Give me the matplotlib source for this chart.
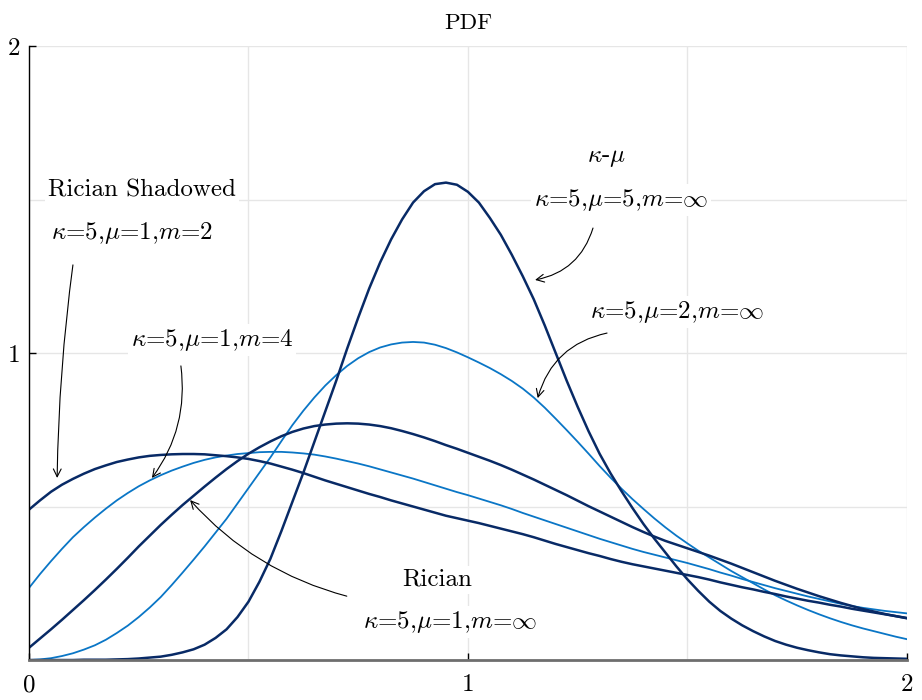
import matplotlib
matplotlib.use('Agg')
import matplotlib.pyplot as plt
import numpy as np

plt.rcParams['font.family'] = 'cmr10'
plt.rcParams['mathtext.fontset'] = 'cm'
plt.rcParams['axes.unicode_minus'] = False
plt.rcParams['axes.formatter.use_mathtext'] = True

# x grid the curves were read on (0 .. 2, step 0.025)
x = np.linspace(0, 2, 81)

# kappa-mu, kappa=5, mu=5, m=inf
kmu_mu5 = [0.0, 0.0, 0.0, 0.0, 0.0, 0.001, 0.001, 0.001, 0.002, 0.003,
           0.005, 0.008, 0.011, 0.017, 0.025, 0.035, 0.05, 0.072, 0.10, 0.14,
           0.19, 0.255, 0.33, 0.42, 0.515, 0.61, 0.71, 0.81, 0.91, 1.015,
           1.115, 1.21, 1.295, 1.37, 1.435, 1.49, 1.527, 1.55, 1.555, 1.548,
           1.525, 1.49, 1.44, 1.385, 1.32, 1.25, 1.175, 1.09, 1.00, 0.91,
           0.825, 0.745, 0.672, 0.608, 0.55, 0.495, 0.443, 0.395, 0.35, 0.305,
           0.263, 0.225, 0.19, 0.16, 0.135, 0.113, 0.094, 0.077, 0.062, 0.05,
           0.04, 0.032, 0.025, 0.019, 0.015, 0.012, 0.009, 0.007, 0.006, 0.005, 0.004]

# kappa-mu, kappa=5, mu=2, m=inf
kmu_mu2 = [0.0, 0.002, 0.006, 0.013, 0.022, 0.034, 0.048, 0.066, 0.088, 0.112,
           0.14, 0.171, 0.205, 0.244, 0.285, 0.327, 0.37, 0.415, 0.46, 0.51,
           0.56, 0.61, 0.66, 0.713, 0.765, 0.812, 0.855, 0.894, 0.928, 0.958,
           0.983, 1.003, 1.018, 1.028, 1.034, 1.036, 1.034, 1.027, 1.016, 1.002,
           0.986, 0.969, 0.951, 0.931, 0.909, 0.884, 0.855, 0.822, 0.786, 0.749,
           0.711, 0.672, 0.632, 0.594, 0.558, 0.524, 0.492, 0.461, 0.432, 0.405,
           0.38, 0.356, 0.334, 0.312, 0.29, 0.27, 0.25, 0.23, 0.211, 0.194,
           0.178, 0.163, 0.149, 0.136, 0.124, 0.113, 0.103, 0.094, 0.085, 0.076, 0.068]

# Rician, kappa=5, mu=1, m=inf
rician = [0.04, 0.07, 0.10, 0.131, 0.163, 0.195, 0.228, 0.262, 0.297, 0.333,
          0.37, 0.405, 0.44, 0.473, 0.505, 0.535, 0.565, 0.594, 0.622, 0.648,
          0.672, 0.693, 0.712, 0.729, 0.743, 0.754, 0.762, 0.767, 0.77, 0.771,
          0.77, 0.767, 0.762, 0.755, 0.746, 0.736, 0.725, 0.713, 0.70, 0.688,
          0.675, 0.662, 0.649, 0.635, 0.62, 0.604, 0.588, 0.571, 0.554, 0.537,
          0.519, 0.501, 0.484, 0.467, 0.45, 0.433, 0.417, 0.402, 0.388, 0.376,
          0.364, 0.352, 0.34, 0.327, 0.314, 0.30, 0.286, 0.272, 0.258, 0.245,
          0.232, 0.22, 0.208, 0.197, 0.186, 0.176, 0.166, 0.158, 0.15, 0.143, 0.136]

# Rician shadowed, kappa=5, mu=1, m=2
rs_m2 = [0.49, 0.52, 0.548, 0.571, 0.59, 0.607, 0.622, 0.634, 0.645, 0.653,
         0.66, 0.665, 0.668, 0.67, 0.671, 0.671, 0.67, 0.667, 0.664, 0.66,
         0.655, 0.648, 0.64, 0.63, 0.62, 0.609, 0.597, 0.585, 0.574, 0.563,
         0.552, 0.541, 0.531, 0.52, 0.51, 0.50, 0.49, 0.48, 0.47, 0.462,
         0.454, 0.446, 0.437, 0.428, 0.419, 0.41, 0.40, 0.389, 0.378, 0.368,
         0.358, 0.348, 0.339, 0.329, 0.32, 0.312, 0.305, 0.298, 0.291, 0.284,
         0.277, 0.27, 0.262, 0.253, 0.245, 0.237, 0.23, 0.222, 0.215, 0.207,
         0.20, 0.193, 0.187, 0.18, 0.174, 0.167, 0.161, 0.155, 0.149, 0.143, 0.137]

# Rician shadowed, kappa=5, mu=1, m=4
rs_m4 = [0.235, 0.28, 0.322, 0.362, 0.40, 0.433, 0.464, 0.493, 0.52, 0.544,
         0.566, 0.585, 0.602, 0.617, 0.63, 0.642, 0.652, 0.66, 0.666, 0.671,
         0.674, 0.677, 0.678, 0.678, 0.676, 0.673, 0.669, 0.663, 0.656, 0.648,
         0.64, 0.631, 0.621, 0.611, 0.601, 0.591, 0.58, 0.569, 0.558, 0.547,
         0.537, 0.526, 0.515, 0.504, 0.492, 0.479, 0.467, 0.455, 0.443, 0.431,
         0.419, 0.407, 0.395, 0.384, 0.373, 0.362, 0.352, 0.343, 0.334, 0.325,
         0.316, 0.306, 0.296, 0.285, 0.275, 0.264, 0.254, 0.244, 0.234, 0.225,
         0.216, 0.207, 0.199, 0.191, 0.183, 0.176, 0.17, 0.165, 0.16, 0.156, 0.152]

dark = '#082a66'
light = '#0a76c6'

fig = plt.figure(figsize=(9.22, 7.0), dpi=100)
ax = fig.add_axes([0.0315, 0.0571, 0.952, 0.8772])

ax.plot(x, kmu_mu2, color=light, lw=1.3)
ax.plot(x, rs_m4, color=light, lw=1.3)
ax.plot(x, kmu_mu5, color=dark, lw=1.8)
ax.plot(x, rician, color=dark, lw=1.8)
ax.plot(x, rs_m2, color=dark, lw=1.8)

ax.set_xlim(0, 2)
ax.set_ylim(0, 2)
ax.set_xticks([0, 1, 2])
ax.set_xticklabels(['0', '1', '2'])
ax.set_yticks([1, 2])
ax.set_yticklabels(['1', '2'])
ax.set_xticks([0.5, 1.5], minor=True)
ax.set_yticks([0, 0.5, 1.5], minor=True)
ax.tick_params(which='major', direction='in', length=5, width=1, labelsize=18)
ax.tick_params(axis='x', pad=10)
ax.tick_params(axis='y', pad=6)
ax.tick_params(which='minor', length=0)
ax.grid(True, which='both', color='#e6e6e6', lw=1)
ax.set_axisbelow(True)

for s in ['top', 'right']:
    ax.spines[s].set_visible(False)
ax.spines['left'].set_color('black')
ax.spines['left'].set_linewidth(1)
ax.spines['bottom'].set_color('#6e6e6e')
ax.spines['bottom'].set_linewidth(2)

ax.set_title('PDF', fontsize=16.5, pad=12)

box = dict(facecolor='white', edgecolor='none', pad=2)
fs = 18
ax.text(0.257, 1.531, 'Rician Shadowed', fontsize=fs, ha='center', va='center', bbox=box)
ax.text(0.235, 1.391, r'$\kappa$=5,$\mu$=1,$m$=2', fontsize=fs, ha='center', va='center', bbox=box)
ax.text(0.417, 1.042, r'$\kappa$=5,$\mu$=1,$m$=4', fontsize=fs, ha='center', va='center', bbox=box)
ax.text(1.317, 1.635, r'$\kappa$-$\mu$', fontsize=fs, ha='center', va='center', bbox=box)
ax.text(1.349, 1.498, r'$\kappa$=5,$\mu$=5,$m$=$\infty$', fontsize=fs, ha='center', va='center', bbox=box)
ax.text(1.476, 1.134, r'$\kappa$=5,$\mu$=2,$m$=$\infty$', fontsize=fs, ha='center', va='center', bbox=box)
ax.text(0.929, 0.261, 'Rician', fontsize=fs, ha='center', va='center', bbox=box)
ax.text(0.959, 0.124, r'$\kappa$=5,$\mu$=1,$m$=$\infty$', fontsize=fs, ha='center', va='center', bbox=box)

arr = dict(arrowstyle='->', color='black', lw=0.8, shrinkA=0, shrinkB=0, mutation_scale=14)
ax.annotate('', xy=(0.064, 0.593), xytext=(0.10, 1.287),
            arrowprops=dict(arr, connectionstyle='arc3,rad=0.03'))
ax.annotate('', xy=(0.28, 0.593), xytext=(0.346, 0.958),
            arrowprops=dict(arr, connectionstyle='arc3,rad=-0.2'))
ax.annotate('', xy=(0.367, 0.521), xytext=(0.724, 0.208),
            arrowprops=dict(arr, connectionstyle='arc3,rad=-0.15'))
ax.annotate('', xy=(1.153, 1.238), xytext=(1.285, 1.407),
            arrowprops=dict(arr, connectionstyle='arc3,rad=-0.3'))
ax.annotate('', xy=(1.159, 0.853), xytext=(1.317, 1.065),
            arrowprops=dict(arr, connectionstyle='arc3,rad=0.3'))

fig.savefig('out.png', dpi=100)
